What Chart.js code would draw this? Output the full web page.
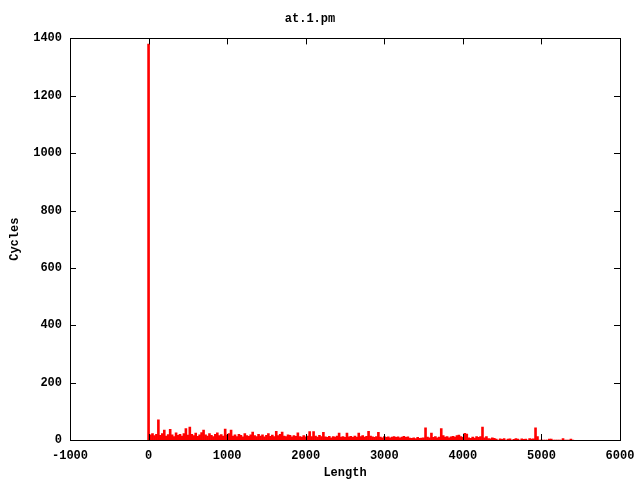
<!DOCTYPE html>
<html>
<head>
<meta charset="utf-8">
<script src="https://cdn.jsdelivr.net/npm/chart.js@4"></script>
<style>
  html, body { margin: 0; padding: 0; background: #fff; }
  #wrap { width: 640px; height: 480px; }
</style>
</head>
<body>
<div id="wrap"><canvas id="chart"></canvas></div>
<script>
// histogram of cycle counts per length (bin width 25)
var BIN = 25;
var cycles = [
  1380, 18, 22, 15, 20, 70, 16, 22, 35, 14,
  19, 37, 18, 12, 25, 16, 20, 14, 22, 40,
  17, 45, 20, 15, 24, 13, 18, 26, 35, 18,
  14, 22, 16, 12, 20, 25, 15, 19, 14, 38,
  17, 22, 35, 14, 18, 12, 20, 16, 11, 22,
  15, 13, 18, 28, 15, 12, 20, 14, 18, 11,
  16, 22, 13, 17, 12, 30, 15, 20, 28, 14,
  12, 18, 16, 11, 15, 13, 25, 12, 10, 15,
  11, 14, 29, 12, 29, 14, 10, 16, 12, 27,
  11, 9, 13, 8, 12, 10, 14, 24, 10, 12,
  9, 24, 11, 13, 9, 14, 10, 24, 12, 15,
  10, 13, 30, 14, 11, 9, 12, 27, 10, 8,
  12, 9, 11, 8, 10, 12, 9, 11, 8, 10,
  13, 9, 11, 7, 6, 8, 5, 9, 6, 7,
  8, 42, 10, 8, 24, 9, 12, 8, 10, 40,
  15, 10, 12, 8, 11, 13, 10, 15, 17, 12,
  9, 23, 21, 8, 6, 10, 7, 12, 9, 12,
  45, 8, 12, 5, 4, 8, 6, 3, 0, 4,
  2, 5, 0, 3, 4, 0, 2, 5, 3, 0,
  4, 2, 3, 0, 5, 3, 4, 42, 12, 0,
  0, 0, 0, 0, 3, 3, 0, 0, 0, 0,
  0, 5, 0, 0, 0, 3, 0
];
var lengths = cycles.map(function (v, i) { return i * BIN; });

var xTicks = [-1000, 0, 1000, 2000, 3000, 4000, 5000, 6000];
var yTicks = [0, 200, 400, 600, 800, 1000, 1200, 1400];

var FONT = { family: '"Liberation Mono", "DejaVu Sans Mono", monospace', size: 12, weight: 'bold' };

// gnuplot style frame with inward ticks on all four sides
var framePlugin = {
  id: 'frame',
  afterDraw: function (chart) {
    var ctx = chart.ctx, a = chart.chartArea;
    var xs = chart.scales.x, ys = chart.scales.y;
    var T = 6;
    ctx.save();
    ctx.strokeStyle = '#000';
    ctx.lineWidth = 1;
    ctx.beginPath();
    xTicks.forEach(function (v) {
      var px = Math.round(xs.getPixelForValue(v)) + 0.5;
      ctx.moveTo(px, a.bottom); ctx.lineTo(px, a.bottom - T);
      ctx.moveTo(px, a.top); ctx.lineTo(px, a.top + T);
    });
    yTicks.forEach(function (v) {
      var py = Math.round(ys.getPixelForValue(v)) + 0.5;
      ctx.moveTo(a.left, py); ctx.lineTo(a.left + T, py);
      ctx.moveTo(a.right, py); ctx.lineTo(a.right - T, py);
    });
    ctx.stroke();
    ctx.strokeRect(Math.round(a.left) + 0.5, Math.round(a.top) + 0.5,
      Math.round(a.right - a.left), Math.round(a.bottom - a.top));
    ctx.restore();
  }
};

function plain(v) { return String(v); }

new Chart(document.getElementById('chart'), {
  type: 'bar',
  data: {
    datasets: [{
      label: 'at.1.pm',
      data: lengths.map(function (x, i) { return { x: x, y: cycles[i] }; }),
      backgroundColor: '#ff0000',
      borderWidth: 0,
      barPercentage: 1.0,
      categoryPercentage: 1.0
    }]
  },
  options: {
    responsive: true,
    maintainAspectRatio: false,
    animation: false,
    layout: { padding: { left: 0, right: 20, top: 0, bottom: 0 } },
    plugins: {
      legend: { display: false },
      tooltip: { enabled: false },
      title: {
        display: true,
        text: 'at.1.pm',
        color: '#000',
        font: FONT,
        padding: { top: 12, bottom: 12 }
      }
    },
    scales: {
      x: {
        type: 'linear',
        min: -1000,
        max: 6000,
        offset: false,
        afterBuildTicks: function (s) { s.ticks = xTicks.map(function (v) { return { value: v }; }); },
        afterFit: function (s) { s.height = 40; s.paddingRight = 0; s.paddingLeft = 0; },
        grid: { display: false, drawTicks: false, tickLength: 0 },
        border: { display: false },
        ticks: { color: '#000', font: FONT, padding: 9, maxRotation: 0, autoSkip: false, callback: plain },
        title: { display: true, text: 'Length', color: '#000', font: FONT, padding: { top: 0, bottom: 0 } }
      },
      y: {
        min: 0,
        max: 1400,
        afterBuildTicks: function (s) { s.ticks = yTicks.map(function (v) { return { value: v }; }); },
        afterFit: function (s) { s.width = 70; },
        grid: { display: false, drawTicks: false, tickLength: 0 },
        border: { display: false },
        ticks: { color: '#000', font: FONT, padding: 8, callback: plain },
        title: { display: true, text: 'Cycles', color: '#000', font: FONT, padding: { top: 8, bottom: 0 } }
      }
    }
  },
  plugins: [framePlugin]
});
</script>
</body>
</html>
